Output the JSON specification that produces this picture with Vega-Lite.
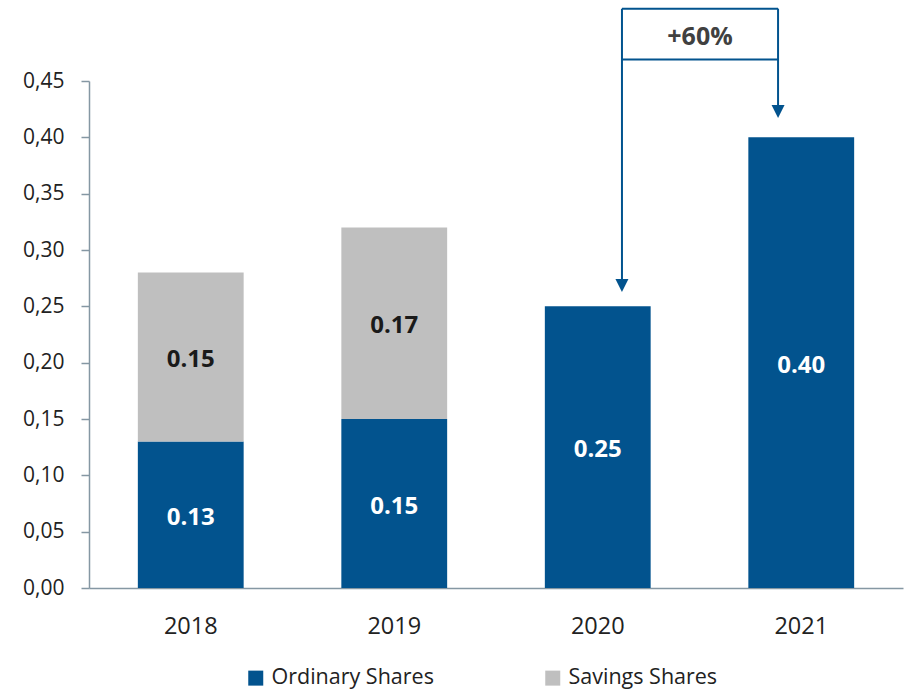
{
  "$schema": "https://vega.github.io/schema/vega-lite/v6.json",
  "autosize": {"type": "none"},
  "width": 814,
  "height": 507,
  "padding": {"left": 89, "top": 81, "right": 2, "bottom": 103},
  "background": "white",
  "config": {
    "font": "Open Sans",
    "view": {"stroke": null}
  },
  "datasets": {
    "bars": [
      {"year": "2018", "series": "Ordinary Shares", "value": 0.13},
      {"year": "2018", "series": "Savings Shares", "value": 0.15},
      {"year": "2019", "series": "Ordinary Shares", "value": 0.15},
      {"year": "2019", "series": "Savings Shares", "value": 0.17},
      {"year": "2020", "series": "Ordinary Shares", "value": 0.25},
      {"year": "2021", "series": "Ordinary Shares", "value": 0.40}
    ],
    "lines": [
      {"ax": 2.619, "ax2": 2.619, "ay": 0.5142, "ay2": 0.274},
      {"ax": 3.386, "ax2": 3.386, "ay": 0.5142, "ay2": 0.4283},
      {"ax": 2.619, "ax2": 3.386, "ay": 0.5142, "ay2": 0.5142},
      {"ax": 2.619, "ax2": 3.386, "ay": 0.469, "ay2": 0.469}
    ],
    "heads": [
      {"ax": 2.619, "ay": 0.2685},
      {"ax": 3.386, "ay": 0.4229}
    ],
    "note": [
      {"ax": 3.0025, "ay": 0.4916, "label": "+60%"}
    ]
  },
  "layer": [
    {
      "data": {"name": "bars"},
      "layer": [
        {
          "mark": {"type": "bar"},
          "encoding": {
            "x": {
              "field": "year", "type": "nominal", "title": null,
              "scale": {"paddingInner": 0.48, "paddingOuter": 0.24},
              "axis": {
                "labelAngle": 0, "labelFontSize": 23.5, "labelColor": "#222222",
                "labelPadding": 26, "ticks": false,
                "domainColor": "#8597a3", "domainWidth": 1.5
              }
            },
            "y": {
              "field": "value", "type": "quantitative", "title": null,
              "stack": "zero",
              "scale": {"domain": [0, 0.45], "nice": false},
              "axis": {
                "values": [0, 0.05, 0.1, 0.15, 0.2, 0.25, 0.3, 0.35, 0.4, 0.45],
                "labelExpr": "replace(format(datum.value, '.2f'), '.', ',')",
                "labelFontSize": 21, "labelColor": "#222222", "labelPadding": 17,
                "tickSize": 8, "tickColor": "#8597a3", "tickWidth": 1.5,
                "domainColor": "#8597a3", "domainWidth": 1.5, "grid": false
              }
            },
            "order": {"field": "series", "sort": "ascending"},
            "color": {
              "field": "series", "type": "nominal", "title": null,
              "scale": {"domain": ["Ordinary Shares", "Savings Shares"], "range": ["#02538e", "#bfbfbf"]},
              "legend": {
                "orient": "none", "legendX": 156, "legendY": 586,
                "direction": "horizontal", "symbolType": "square", "symbolSize": 225,
                "symbolStrokeWidth": 0, "labelFontSize": 21.5, "labelColor": "#222222",
                "labelLimit": 400, "labelOffset": 5, "columnPadding": 108
              }
            }
          }
        },
        {
          "mark": {"type": "text", "fontSize": 24, "fontWeight": "bold", "baseline": "middle", "align": "center", "dy": 3},
          "encoding": {
            "x": {"field": "year", "type": "nominal"},
            "y": {"field": "value", "type": "quantitative", "stack": "zero", "bandPosition": 0.5, "title": null, "scale": {"domain": [0, 0.45], "nice": false}},
            "detail": {"field": "series", "type": "nominal"},
            "order": {"field": "series", "sort": "ascending"},
            "text": {"field": "value", "type": "quantitative", "format": ".2f"},
            "color": {"condition": {"test": "datum.series === 'Ordinary Shares'", "value": "#ffffff"}, "value": "#1a1a1a"}
          }
        }
      ]
    },
    {
      "layer": [
        {
          "data": {"name": "lines"},
          "mark": {"type": "rule", "color": "#02538e", "strokeWidth": 2},
          "encoding": {
            "x": {"field": "ax", "type": "quantitative", "scale": {"domain": [0, 4], "nice": false, "zero": false}, "axis": null},
            "x2": {"field": "ax2"},
            "y": {"field": "ay", "type": "quantitative", "title": null, "scale": {"domain": [0, 0.45], "nice": false}},
            "y2": {"field": "ay2"}
          }
        },
        {
          "data": {"name": "heads"},
          "mark": {"type": "point", "shape": "M-1,-1L1,-1L0,1Z", "size": 169, "filled": true, "color": "#02538e", "opacity": 1, "strokeWidth": 0},
          "encoding": {
            "x": {"field": "ax", "type": "quantitative", "scale": {"domain": [0, 4], "nice": false, "zero": false}, "axis": null},
            "y": {"field": "ay", "type": "quantitative", "title": null, "scale": {"domain": [0, 0.45], "nice": false}}
          }
        },
        {
          "data": {"name": "note"},
          "mark": {"type": "text", "fontSize": 25, "fontWeight": "bold", "color": "#404040", "baseline": "middle", "align": "center", "dy": 3},
          "encoding": {
            "x": {"field": "ax", "type": "quantitative", "scale": {"domain": [0, 4], "nice": false, "zero": false}, "axis": null},
            "y": {"field": "ay", "type": "quantitative", "title": null, "scale": {"domain": [0, 0.45], "nice": false}},
            "text": {"field": "label"}
          }
        }
      ]
    }
  ],
  "resolve": {"scale": {"x": "independent"}, "axis": {"x": "independent"}}
}
